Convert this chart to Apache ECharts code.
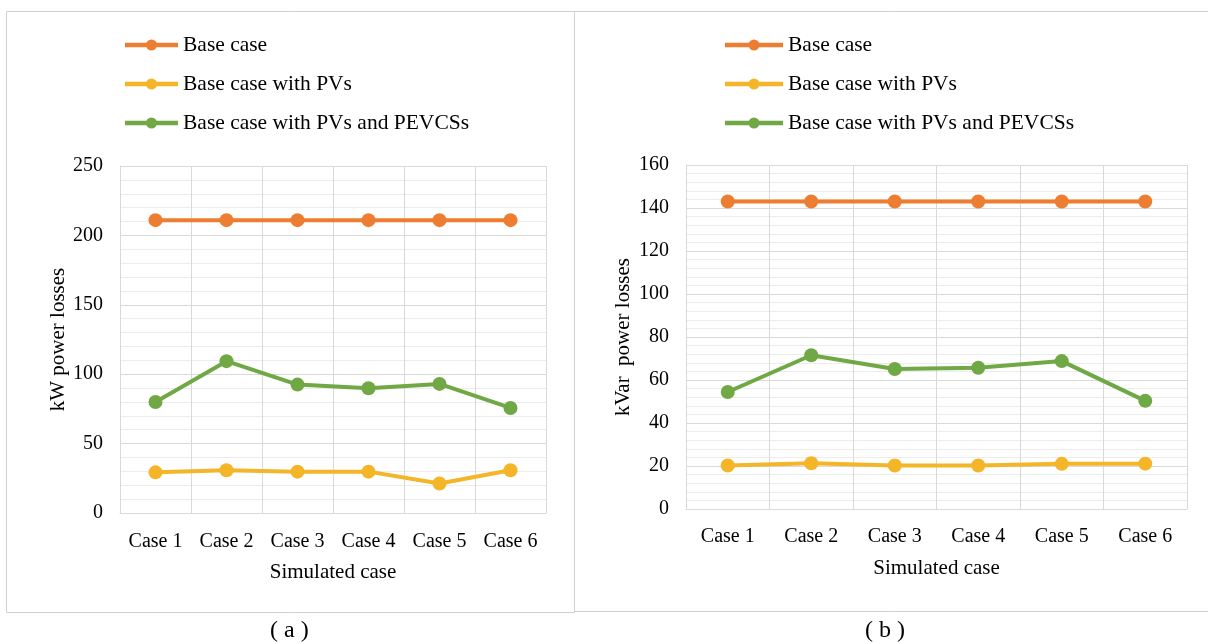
<!DOCTYPE html>
<html><head><meta charset="utf-8">
<script src="https://cdn.jsdelivr.net/npm/echarts@6/dist/echarts.min.js"></script>
<style>html,body{margin:0;padding:0;background:#fff}#c{width:1208px;height:642px}</style>
</head><body><div id="c"></div>
<script>
const categories = ['Case 1','Case 2','Case 3','Case 4','Case 5','Case 6'];
const seriesNames = ['Base case','Base case with PVs','Base case with PVs and PEVCSs'];
// (a) kW power losses
const kwBase = [211, 211, 211, 211, 211, 211];
const kwPV = [29.3, 30.8, 29.8, 29.8, 21.2, 30.8];
const kwPVEV = [80, 109.4, 92.5, 89.9, 93, 75.7];
// (b) kVar power losses
const kvarBase = [143, 143, 143, 143, 143, 143];
const kvarPV = [20.2, 21.3, 20.2, 20.2, 21.0, 21.1];
const kvarPVEV = [54.4, 71.5, 65.1, 65.7, 68.8, 50.3];
const kwTicks = {min:0, max:250, interval:50};
const kvarTicks = {min:0, max:160, interval:20};

const colors = ['#ED7D31','#F4B528','#70A845'];
const FONT = '"Liberation Serif","Times New Roman",serif';
const chart = echarts.init(document.getElementById('c'), null, {renderer:'canvas'});

function xAxis(gi, gap){
  return {type:'category', gridIndex:gi, data:categories, boundaryGap:true,
    axisLine:{show:true, lineStyle:{color:'#d9d9d9', width:1}},
    axisTick:{show:false},
    axisLabel:{color:'#000', fontFamily:FONT, fontSize:20, margin:gap, interval:0},
    splitLine:{show:true, lineStyle:{color:'#d9d9d9', width:1}},
    name:'Simulated case', nameLocation:'middle', nameGap:49,
    nameTextStyle:{color:'#000', fontFamily:FONT, fontSize:21}};
}
function yAxis(gi, t, name, nameGap){
  return {type:'value', gridIndex:gi, min:t.min, max:t.max, interval:t.interval,
    axisLine:{show:true, lineStyle:{color:'#d9d9d9'}},
    axisTick:{show:false},
    axisLabel:{color:'#000', fontFamily:FONT, fontSize:20, margin:17},
    splitLine:{show:true, lineStyle:{color:'#d9d9d9', width:1}},
    minorTick:{show:false, splitNumber:5},
    minorSplitLine:{show:true, lineStyle:{color:'#ececec', width:1}},
    name:name, nameLocation:'middle', nameGap:nameGap, nameRotate:90,
    nameTextStyle:{color:'#000', fontFamily:FONT, fontSize:21}};
}
function lineSeries(name, data, idx, gi){
  return {type:'line', name:name, data:data, xAxisIndex:gi, yAxisIndex:gi,
    color:colors[idx], symbol:'circle', symbolSize:14, showSymbol:true,
    lineStyle:{width:4, color:colors[idx]}, itemStyle:{color:colors[idx]},
    animation:false, z:3};
}
function iconPath(w){
  const c = w/2;
  return 'path://M0,3.2 L'+w+',3.2 L'+w+',7.8 L0,7.8 Z M'+(c-5.5)+',5.5 A5.5,5.5 0 1,1 '+(c+5.5)+',5.5 A5.5,5.5 0 1,1 '+(c-5.5)+',5.5 Z';
}
function legend(left, w){
  return {orient:'vertical', left:left, top:29, itemWidth:w, itemHeight:11, itemGap:17,
    symbolKeepAspect:false,
    data:seriesNames.map(n => ({name:n, icon:iconPath(w)})),
    textStyle:{color:'#000', fontFamily:FONT, fontSize:21.5, lineHeight:22},
    selectedMode:false};
}

chart.setOption({
  backgroundColor:'#fff',
  animation:false,
  legend:[legend(120, 53), legend(720, 58)],
  grid:[
    {left:120, right:662, top:166, bottom:129},
    {left:686, right:21, top:165, bottom:133}
  ],
  xAxis:[xAxis(0, 19), xAxis(1, 18)],
  yAxis:[yAxis(0, kwTicks, 'kW power losses', 44), yAxis(1, kvarTicks, 'kVar  power losses', 52)],
  series:[
    lineSeries(seriesNames[0], kwBase, 0, 0),
    lineSeries(seriesNames[1], kwPV, 1, 0),
    lineSeries(seriesNames[2], kwPVEV, 2, 0),
    lineSeries(seriesNames[0], kvarBase, 0, 1),
    lineSeries(seriesNames[1], kvarPV, 1, 1),
    lineSeries(seriesNames[2], kvarPVEV, 2, 1)
  ],
  graphic:[
    {type:'rect', shape:{x:6.5, y:11.5, width:568, height:601}, style:{fill:null, stroke:'#d0d0d0', lineWidth:1}, silent:true, z:-1},
    {type:'polyline', shape:{points:[[574.5,11.5],[1208,11.5]]}, style:{stroke:'#d0d0d0', lineWidth:1}, silent:true, z:-1},
    {type:'polyline', shape:{points:[[574.5,611.5],[1208,611.5]]}, style:{stroke:'#d0d0d0', lineWidth:1}, silent:true, z:-1},
    {type:'text', left:270, top:619, style:{text:'( a )', fontFamily:FONT, fontSize:24, fill:'#000'}},
    {type:'text', left:865, top:619, style:{text:'( b )', fontFamily:FONT, fontSize:24, fill:'#000'}}
  ]
});
</script></body></html>
